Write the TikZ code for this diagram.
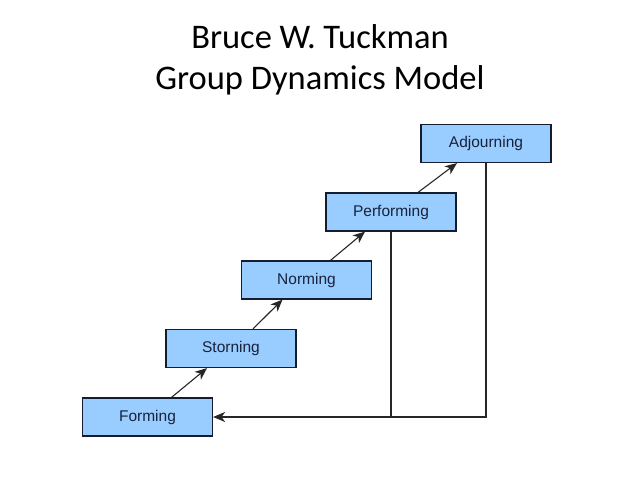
\documentclass[tikz,border=0pt]{standalone}
\usepackage{fontspec}
\setmainfont{Liberation Sans}
\newfontfamily\titlefont{Carlito}
\usetikzlibrary{arrows.meta}
\definecolor{boxfill}{HTML}{99CCFF}
\definecolor{boxdraw}{HTML}{151C30}
\definecolor{boxtext}{HTML}{17223C}
\definecolor{linegray}{HTML}{262626}
\tikzset{
  stagebox/.style={draw=boxdraw, fill=boxfill, line width=1.2pt, minimum width=130pt, minimum height=38pt, inner sep=0pt, text=boxtext, font=\fontsize{15.5}{17}\selectfont},
  conn/.style={draw=linegray, line width=1.1pt},
  arr/.style={conn, -{Stealth[length=12pt, width=10pt, inset=3.5pt]}},
  titletext/.style={font=\titlefont\fontsize{34.5}{41}\selectfont, align=center, inner sep=0pt}
}
\begin{document}
\begin{tikzpicture}[x=1pt, y=-1pt]
\useasboundingbox (0,0) rectangle (638,479);
\node[titletext, anchor=base] (title) at (320,89) {Bruce W. Tuckman\\Group Dynamics Model};
\node[stagebox] (Forming) at (147.5,417) {Forming};
\node[stagebox] (Storning) at (231,348.5) {Storning};
\node[stagebox] (Norming) at (306.5,280) {Norming};
\node[stagebox] (Performing) at (391,212) {Performing};
\node[stagebox] (Adjourning) at (486,143.5) {Adjourning};
\draw[arr] ([xshift=24pt]Forming.north) -- ([xshift=-24pt]Storning.south);
\draw[arr] ([xshift=22pt]Storning.north) -- ([xshift=-24pt]Norming.south);
\draw[arr] ([xshift=24pt]Norming.north) -- ([xshift=-26pt]Performing.south);
\draw[arr] ([xshift=27pt]Performing.north) -- ([xshift=-29pt]Adjourning.south);
\draw[arr] (Adjourning.south) |- (Forming.east);
\draw[conn] (Performing.south) -- (Performing.south |- Forming.east);
\end{tikzpicture}
\end{document}
